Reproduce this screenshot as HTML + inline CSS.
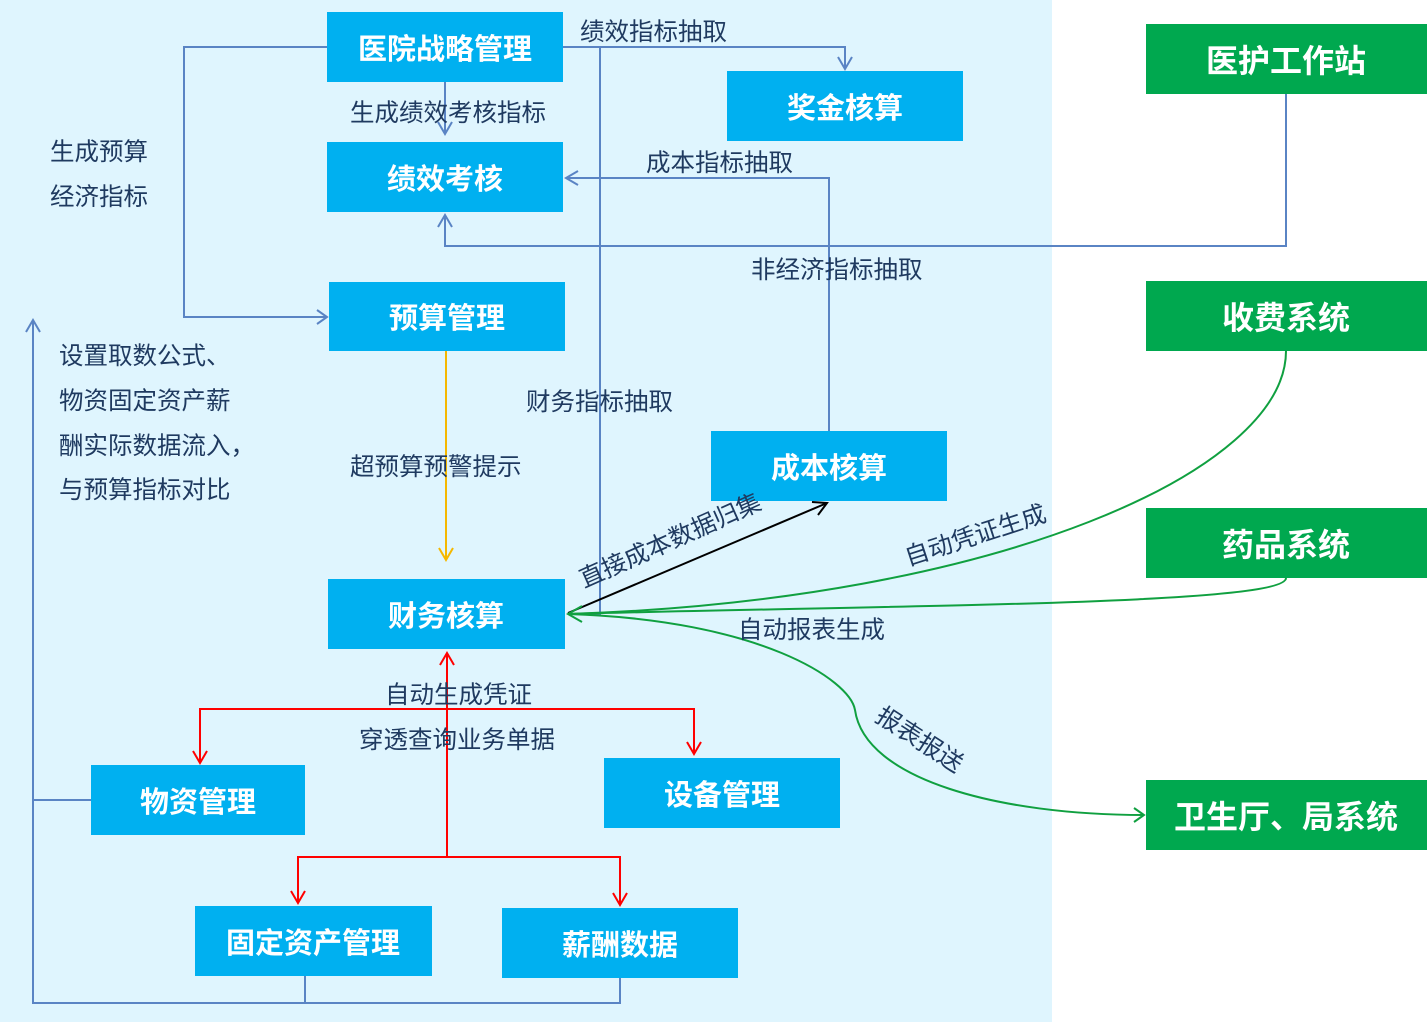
<!DOCTYPE html>
<html><head><meta charset="utf-8"><style>
body{margin:0;width:1427px;height:1022px;overflow:hidden;background:#fff}
svg{display:block}
text{font-family:"Liberation Sans","Noto Sans CJK SC",sans-serif}
.b{fill:#00b0f0}.g{fill:#00a84f}
.bt{fill:#fff;font-size:29px;font-weight:bold;text-anchor:middle}
.l{fill:#1f3a60;font-size:24.5px}
.bl{stroke:#5a84c4;stroke-width:2;fill:none}
.rd{stroke:#f00;stroke-width:2;fill:none}
.gr{stroke:#10a040;stroke-width:2;fill:none}
</style></head><body>
<svg width="1427" height="1022" viewBox="0 0 1427 1022">
<rect x="0" y="0" width="1052" height="1022" fill="#dff5fe"/>
<rect class="b" x="327" y="12" width="236" height="70"/><text class="bt" x="445" y="59">医院战略管理</text>
<rect class="b" x="727" y="71" width="236" height="70"/><text class="bt" x="845" y="118">奖金核算</text>
<rect class="b" x="327" y="142" width="236" height="70"/><text class="bt" x="445" y="189">绩效考核</text>
<rect class="b" x="329" y="282" width="236" height="69"/><text class="bt" x="447" y="328">预算管理</text>
<rect class="b" x="711" y="431" width="236" height="70"/><text class="bt" x="829" y="478">成本核算</text>
<rect class="b" x="328" y="579" width="237" height="70"/><text class="bt" x="446" y="626">财务核算</text>
<rect class="b" x="91" y="765" width="214" height="70"/><text class="bt" x="198" y="812">物资管理</text>
<rect class="b" x="604" y="758" width="236" height="70"/><text class="bt" x="722" y="805">设备管理</text>
<rect class="b" x="195" y="906" width="237" height="70"/><text class="bt" x="313" y="953">固定资产管理</text>
<rect class="b" x="502" y="908" width="236" height="70"/><text class="bt" x="620" y="955">薪酬数据</text>
<rect class="g" x="1146" y="24" width="281" height="70"/><text class="bt" x="1286" y="72" style="font-size:32px">医护工作站</text>
<rect class="g" x="1146" y="281" width="281" height="70"/><text class="bt" x="1286" y="329" style="font-size:32px">收费系统</text>
<rect class="g" x="1146" y="508" width="281" height="70"/><text class="bt" x="1286" y="556" style="font-size:32px">药品系统</text>
<rect class="g" x="1146" y="780" width="281" height="70"/><text class="bt" x="1286" y="828" style="font-size:32px">卫生厅、局系统</text>
<path class="bl" d="M327 47H184V317H327M317 310l10 7-10 7"/>
<path class="bl" d="M563 47H845V69M838 57l7 12 7-12"/>
<path class="bl" d="M445 82V134M438 122l7 12 7-12"/>
<path class="bl" d="M829 431V178H566M578 171l-12 7 12 7"/>
<path class="bl" d="M1286 94V246H445V215M438 227l7-12 7 12"/>
<path class="bl" d="M600 47V614H568"/>
<path class="bl" d="M91 800H33V1003H620V978M305 976V1003M33 800V320M26 332l7-12 7 12"/>
<path d="M446 351V560M439 548l7 12 7-12" stroke="#f5b800" stroke-width="2" fill="none"/>
<path d="M568 613L827 503M812 502l15 1-9 12" stroke="#000" stroke-width="2" fill="none"/>
<path class="gr" d="M1286 351C1286 470 1000 600 568 614"/>
<path class="gr" d="M1286 578C1286 605 900 605 568 614"/>
<path class="gr" d="M568 614C760 620 850 680 855 710C865 780 1000 815 1144 815M1134 808l10 7-10 7"/>
<path class="gr" d="M582 606l-14 8 14 8"/>
<path class="rd" d="M447 653V857M440 665l7-12 7 12"/>
<path class="rd" d="M200 763V709H694V754M193 751l7 12 7-12M687 742l7 12 7-12"/>
<path class="rd" d="M298 903V857H620V905M291 891l7 12 7-12M613 893l7 12 7-12"/>
<text class="l" x="580" y="40">绩效指标抽取</text>
<text class="l" x="350" y="121">生成绩效考核指标</text>
<text class="l" x="646" y="171">成本指标抽取</text>
<text class="l" x="751" y="278">非经济指标抽取</text>
<text class="l" x="50" y="160">生成预算</text>
<text class="l" x="50" y="205">经济指标</text>
<text class="l" x="59" y="364">设置取数公式、</text>
<text class="l" x="59" y="409">物资固定资产薪</text>
<text class="l" x="59" y="454">酬实际数据流入，</text>
<text class="l" x="59" y="498">与预算指标对比</text>
<text class="l" x="526" y="410">财务指标抽取</text>
<text class="l" x="350" y="475">超预算预警提示</text>
<text class="l" x="738" y="638">自动报表生成</text>
<text class="l" x="385" y="703">自动生成凭证</text>
<text class="l" x="359" y="748">穿透查询业务单据</text>
<text class="l" transform="translate(584 588) rotate(-24)">直接成本数据归集</text>
<text class="l" transform="translate(908 566) rotate(-18)">自动凭证生成</text>
<text class="l" transform="translate(874 720) rotate(33)">报表报送</text>
</svg>
</body></html>
